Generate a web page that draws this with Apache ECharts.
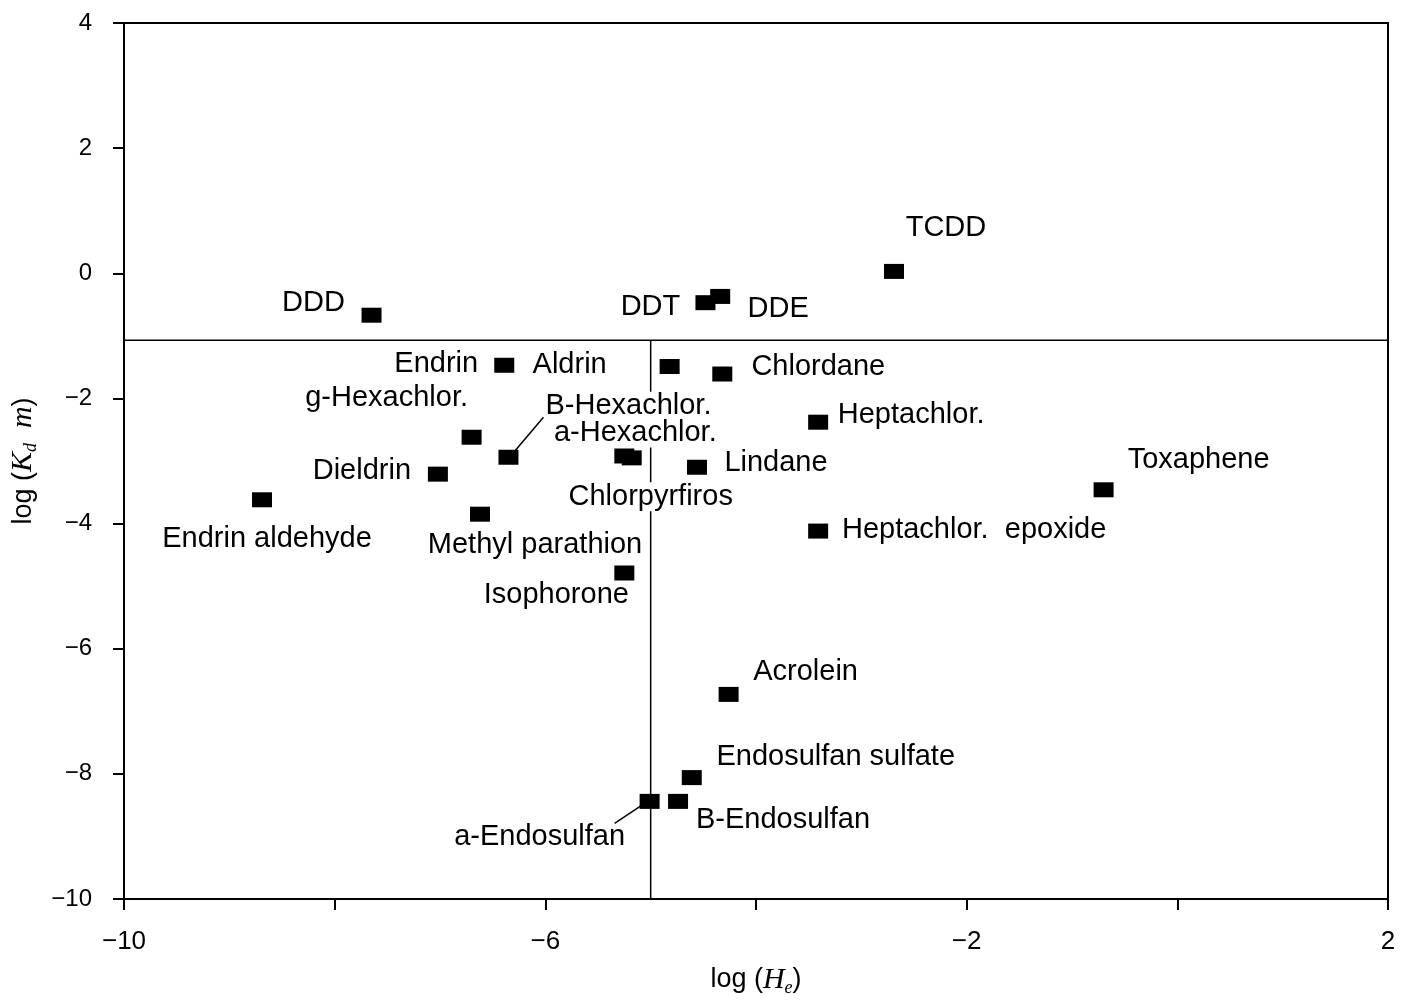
<!DOCTYPE html>
<html>
<head>
<meta charset="utf-8">
<script src="https://cdn.jsdelivr.net/npm/echarts@6/dist/echarts.min.js"></script>
<style>
html, body { margin: 0; padding: 0; background: #fff; }
#chart { width: 1406px; height: 1002px; }
</style>
</head>
<body>
<div id="chart"></div>
<script>
// compounds
const names = [
  'DDD', 'DDT', 'DDE', 'TCDD', 'Endrin', 'Aldrin', 'Chlordane', 'Heptachlor.',
  'g-Hexachlor.', 'B-Hexachlor.', 'a-Hexachlor.', 'Chlorpyrfiros', 'Lindane',
  'Dieldrin', 'Endrin aldehyde', 'Methyl parathion', 'Toxaphene',
  'Heptachlor.  epoxide', 'Isophorone', 'Acrolein', 'Endosulfan sulfate',
  'B-Endosulfan', 'a-Endosulfan'
];
const logHe = [
  -7.65, -4.48, -4.34, -2.69, -6.39, -4.82, -4.32, -3.41,
  -6.70, -6.35, -5.25, -5.18, -4.56,
  -7.02, -8.69, -6.62, -0.70,
  -3.41, -5.25, -4.26, -4.61,
  -4.74, -5.01
];
const logKdm = [
  -0.67, -0.47, -0.37, 0.03, -1.47, -1.49, -1.61, -2.38,
  -2.62, -2.94, -2.92, -2.95, -3.10,
  -3.21, -3.62, -3.85, -3.46,
  -4.12, -4.79, -6.73, -8.06,
  -8.44, -8.44
];
// dividing lines
const splitY = -1.07;
const splitX = -5;
// axes
const xMin = -10, xMax = 2, yMin = -10, yMax = 4, step = 2;
const xLabelled = [-10, -6, -2, 2];

// label placement (pixels from marker centre)
const labelOffsets = {
  'DDD': [-58, -12], 'DDT': [-55, 4], 'DDE': [58, 13], 'TCDD': [52, -43],
  'Endrin': [-68, -1], 'Aldrin': [-100, -2], 'Chlordane': [96, -7],
  'Heptachlor.': [93, -7], 'g-Hexachlor.': [-85, -39], 'B-Hexachlor.': [120, -51],
  'a-Hexachlor.': [11, -23], 'Chlorpyrfiros': [19, 39], 'Lindane': [79, -4],
  'Dieldrin': [-76, -3], 'Endrin aldehyde': [5, 39], 'Methyl parathion': [55, 31],
  'Toxaphene': [95, -30], 'Heptachlor.  epoxide': [156, -1], 'Isophorone': [-68, 22],
  'Acrolein': [77, -22], 'Endosulfan sulfate': [144, -21], 'B-Endosulfan': [105, 19],
  'a-Endosulfan': [-110, 36]
};
const whiteBg = ['B-Hexachlor.', 'a-Hexachlor.', 'Chlorpyrfiros'];
// leader lines: [name, start offset, end offset]
const leaders = [
  ['B-Hexachlor.', [7, -7], [35, -40]],
  ['a-Endosulfan', [-8, 4], [-35, 22]]
];

const SANS = 'Liberation Sans';
const SERIF = 'Liberation Serif';
const minus = v => String(v).replace('-', '\u2212');

const points = names.map((n, i) => ({
  name: n,
  value: [logHe[i], logKdm[i]],
  label: {
    offset: labelOffsets[n],
    backgroundColor: whiteBg.includes(n) ? '#fff' : 'transparent',
    padding: whiteBg.includes(n) ? [0, 2] : 0
  }
}));

const nameRich = {
  n: { fontFamily: SANS, fontSize: 27, color: '#000', lineHeight: 34 },
  i: { fontFamily: SERIF, fontStyle: 'italic', fontSize: 30, color: '#000', lineHeight: 34 },
  s: { fontFamily: SERIF, fontStyle: 'italic', fontSize: 18, color: '#000', lineHeight: 16, verticalAlign: 'bottom' }
};

const chart = echarts.init(document.getElementById('chart'));
chart.setOption({
  backgroundColor: '#fff',
  animation: false,
  grid: {
    left: 124, top: 23, right: 18, bottom: 101,
    show: true, borderColor: '#000', borderWidth: 2
  },
  xAxis: {
    type: 'value', min: xMin, max: xMax, interval: step,
    splitLine: { show: false },
    axisLine: { onZero: false, lineStyle: { color: '#000', width: 2 } },
    axisTick: { length: 11, lineStyle: { color: '#000', width: 2 } },
    axisLabel: {
      margin: 30, fontFamily: SANS, fontSize: 26, color: '#000',
      formatter: v => xLabelled.includes(v) ? minus(v) : ''
    },
    name: '{n|log (}{i|H}{s|e}{n|)}',
    nameLocation: 'middle', nameGap: 64,
    nameTextStyle: { rich: nameRich }
  },
  yAxis: {
    type: 'value', min: yMin, max: yMax, interval: step,
    splitLine: { show: false },
    axisLine: { onZero: false, lineStyle: { color: '#000', width: 2 } },
    axisTick: { length: 11, lineStyle: { color: '#000', width: 2 } },
    axisLabel: {
      margin: 32, fontFamily: SANS, fontSize: 24, color: '#000',
      formatter: v => minus(v)
    },
    name: '{n|log (}{i|K}{s|d}{i|  m}{n|)}',
    nameLocation: 'middle', nameGap: 80,
    nameTextStyle: { rich: nameRich }
  },
  series: [
    {
      type: 'line', z: 1, symbol: 'none', silent: true,
      lineStyle: { color: '#000', width: 1.5 },
      data: [[xMin, splitY], [xMax, splitY]]
    },
    {
      type: 'line', z: 1, symbol: 'none', silent: true,
      lineStyle: { color: '#000', width: 1.5 },
      data: [[splitX, splitY], [splitX, yMin]]
    },
    {
      type: 'scatter', z: 3,
      symbol: 'rect', symbolSize: [20, 15],
      itemStyle: { color: '#000', opacity: 1 },
      label: {
        show: true, position: 'inside', align: 'center', verticalAlign: 'middle',
        formatter: p => p.name,
        fontFamily: SANS, fontSize: 29, color: '#000'
      },
      data: points
    }
  ]
});

// leader lines from marker to label
const graphics = leaders.map(([n, a, b]) => {
  const i = names.indexOf(n);
  const p = chart.convertToPixel({ seriesIndex: 2 }, [logHe[i], logKdm[i]]);
  return {
    type: 'line', z: 10, silent: true,
    shape: { x1: p[0] + a[0], y1: p[1] + a[1], x2: p[0] + b[0], y2: p[1] + b[1] },
    style: { stroke: '#000', lineWidth: 1.5 }
  };
});
chart.setOption({ graphic: graphics });
</script>
</body>
</html>
